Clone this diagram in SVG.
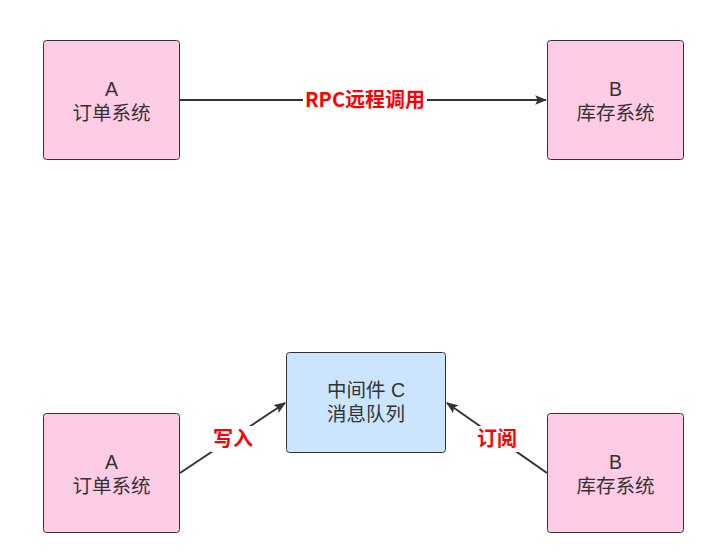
<svg xmlns="http://www.w3.org/2000/svg" width="725" height="560" viewBox="0 0 725 560">
<style>
.pink{fill:#ffcce6;stroke:#333;stroke-width:1}
.blue{fill:#cce5ff;stroke:#333;stroke-width:1}
.t{font-family:"Liberation Sans","Noto Sans CJK SC",sans-serif;font-size:19.5px;fill:#333;text-anchor:middle}
.edge{stroke:#333;stroke-width:2;fill:none;marker-end:url(#arr)}
.lbl{font-family:"Noto Sans CJK SC",sans-serif;font-size:20px;font-weight:bold;fill:#ff0000;text-anchor:middle}
.bg{fill:#fff}
</style>
<defs>
<marker id="arr" viewBox="0 0 10 10" refX="9" refY="5" markerWidth="6" markerHeight="6" orient="auto" markerUnits="strokeWidth">
<path d="M0,1 L10,5 L0,9 L2,5 z" fill="#333"/>
</marker>
</defs>
<rect width="725" height="560" fill="#fff"/>
<g id="connectors">
<line class="edge" x1="180" y1="100" x2="546" y2="100"/>
<rect class="bg" x="303" y="87" width="124" height="26"/>
<text class="lbl" x="365" y="107">RPC远程调用</text>
<line class="edge" x1="180" y1="473" x2="285" y2="403"/>
<rect class="bg" x="211" y="426" width="44" height="26"/>
<text class="lbl" x="233" y="446">写入</text>
<line class="edge" x1="547" y1="473" x2="447" y2="403"/>
<rect class="bg" x="475" y="426" width="44" height="26"/>
<text class="lbl" x="497" y="446">订阅</text>
</g>
<g id="A1">
<rect class="pink" x="43.5" y="40.5" width="136" height="119" rx="3"/>
<text class="t" x="111.5" y="96">A</text>
<text class="t" x="111.5" y="120">订单系统</text>
</g>
<g id="B1">
<rect class="pink" x="547.5" y="40.5" width="136" height="119" rx="3"/>
<text class="t" x="615.5" y="96">B</text>
<text class="t" x="615.5" y="120">库存系统</text>
</g>
<g id="C">
<rect class="blue" x="286.5" y="352.5" width="159" height="100" rx="3"/>
<text class="t" x="366" y="397">中间件 C</text>
<text class="t" x="366" y="421">消息队列</text>
</g>
<g id="A2">
<rect class="pink" x="43.5" y="413.5" width="136" height="119" rx="3"/>
<text class="t" x="111.5" y="469">A</text>
<text class="t" x="111.5" y="493">订单系统</text>
</g>
<g id="B2">
<rect class="pink" x="547.5" y="413.5" width="136" height="119" rx="3"/>
<text class="t" x="615.5" y="469">B</text>
<text class="t" x="615.5" y="493">库存系统</text>
</g>
</svg>
